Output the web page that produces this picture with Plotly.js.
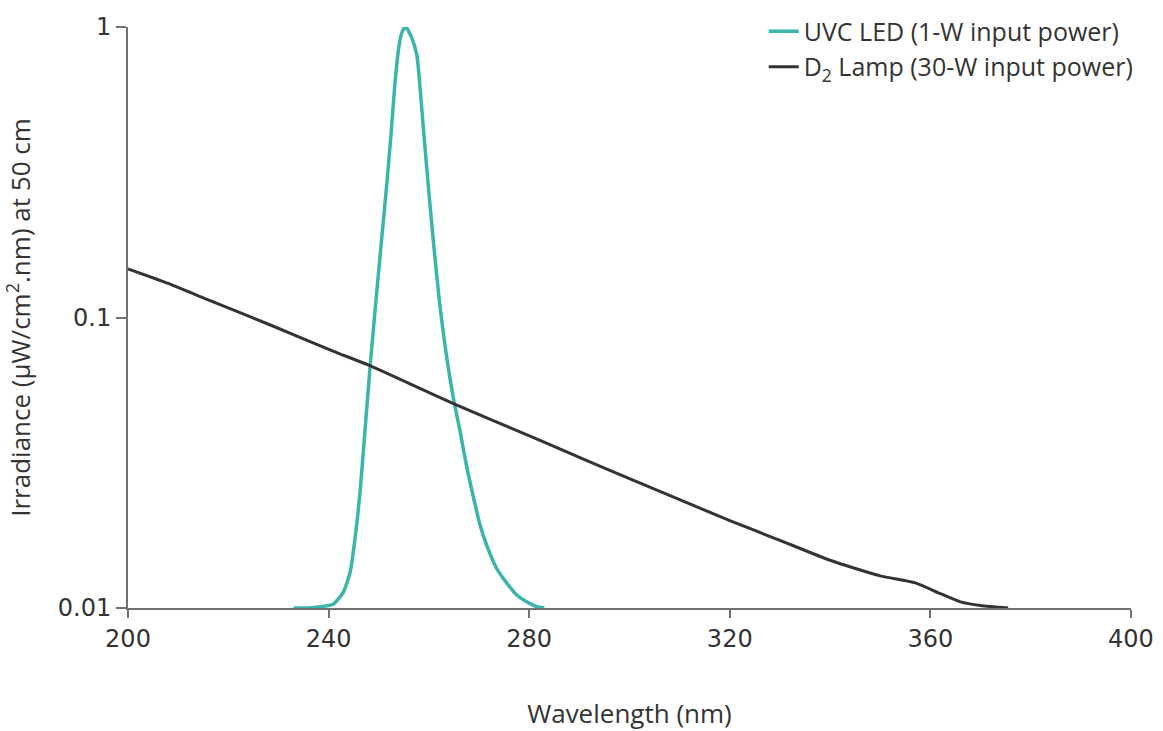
<!DOCTYPE html>
<html>
<head>
<meta charset="utf-8">
<script src="https://cdn.plot.ly/plotly-3.0.1.min.js"></script>
<style>html,body{margin:0;padding:0;background:#fff;}#chart{width:1163px;height:731px;}</style>
</head>
<body>
<div id="chart"></div>
<script>
// UVC LED spectrum (wavelength nm, irradiance)
var ledWavelength = [233, 236, 238.3, 240.9, 242.9, 244.3, 245.3, 246.3, 247.3, 248.3, 249.4, 250.5, 251.5, 252.4, 253.2, 254.0, 254.7, 255.4, 256.6, 257.6, 258.2, 258.9, 259.9, 260.9, 262.2, 263.5, 264.9, 266.2, 267.5, 268.9, 270.2, 271.5, 273.5, 275.5, 277.5, 279.5, 281.5, 283];
var ledIrradiance = [0.0100, 0.0100, 0.0101, 0.0103, 0.0113, 0.0133, 0.0175, 0.0254, 0.0417, 0.0685, 0.112, 0.18, 0.275, 0.417, 0.631, 0.851, 0.966, 1.0, 0.916, 0.80, 0.631, 0.447, 0.282, 0.182, 0.1096, 0.0741, 0.0525, 0.0407, 0.0309, 0.0240, 0.0193, 0.0165, 0.0137, 0.0122, 0.0111, 0.0105, 0.0101, 0.0100];

// D2 lamp spectrum
var lampWavelength = [200, 208, 216, 229, 241, 248, 265, 281, 290, 300, 310, 320, 330, 340, 350, 357, 362, 366, 370, 375.5];
var lampIrradiance = [0.147, 0.131, 0.115, 0.0933, 0.0765, 0.0685, 0.0504, 0.0385, 0.033, 0.0279, 0.0236, 0.020, 0.0171, 0.0146, 0.0129, 0.0122, 0.0112, 0.0105, 0.0102, 0.0100];

var xTicks = [200, 240, 280, 320, 360, 400];
var yTicks = [0.01, 0.1, 1];
var yTickLabels = ['0.01', '0.1', '1'];

var seriesNames = ['UVC LED (1-W input power)', 'D<sub>2</sub> Lamp (30-W input power)'];

var axisColor = '#707070';
var tickFont = {family: 'DejaVu Sans, sans-serif', size: 24, color: '#333'};
var titleFont = {family: 'Open Sans, sans-serif', size: 26, color: '#333'};

var traces = [
  {x: ledWavelength, y: ledIrradiance, name: seriesNames[0], type: 'scatter', mode: 'lines',
   line: {color: '#3bb5aa', width: 3.5, shape: 'spline', smoothing: 0.6}},
  {x: lampWavelength, y: lampIrradiance, name: seriesNames[1], type: 'scatter', mode: 'lines',
   line: {color: '#333333', width: 3, shape: 'spline', smoothing: 0.6}}
];

var layout = {
  width: 1163, height: 731,
  margin: {l: 128, r: 8, t: 24, b: 123},
  paper_bgcolor: '#fff', plot_bgcolor: '#fff',
  showlegend: true,
  legend: {x: 0.619, y: 1.032, xanchor: 'left', yanchor: 'top',
    font: {family: 'Open Sans, sans-serif', size: 25, color: '#333'},
    bgcolor: 'rgba(0,0,0,0)', tracegroupgap: 0},
  xaxis: {
    domain: [0, 0.9766],
    range: [200, 400], tickvals: xTicks, ticktext: xTicks.map(String),
    ticks: 'outside', ticklen: 8, tickwidth: 2, tickcolor: axisColor,
    showline: true, linecolor: axisColor, linewidth: 2,
    showgrid: false, zeroline: false, tickfont: tickFont,
    title: {text: 'Wavelength (nm)', font: titleFont, standoff: 60}
  },
  yaxis: {
    type: 'log', range: [-2, 0], tickvals: yTicks, ticktext: yTickLabels,
    ticks: 'outside', ticklen: 10, tickwidth: 2, tickcolor: axisColor,
    showline: true, linecolor: axisColor, linewidth: 2,
    showgrid: false, zeroline: false, tickfont: tickFont,
    title: {text: 'Irradiance (μW/cm<sup>2</sup>.nm) at 50 cm', font: titleFont, standoff: 20}
  }
};

Plotly.newPlot('chart', traces, layout, {displayModeBar: false, staticPlot: true});
</script>
</body>
</html>
